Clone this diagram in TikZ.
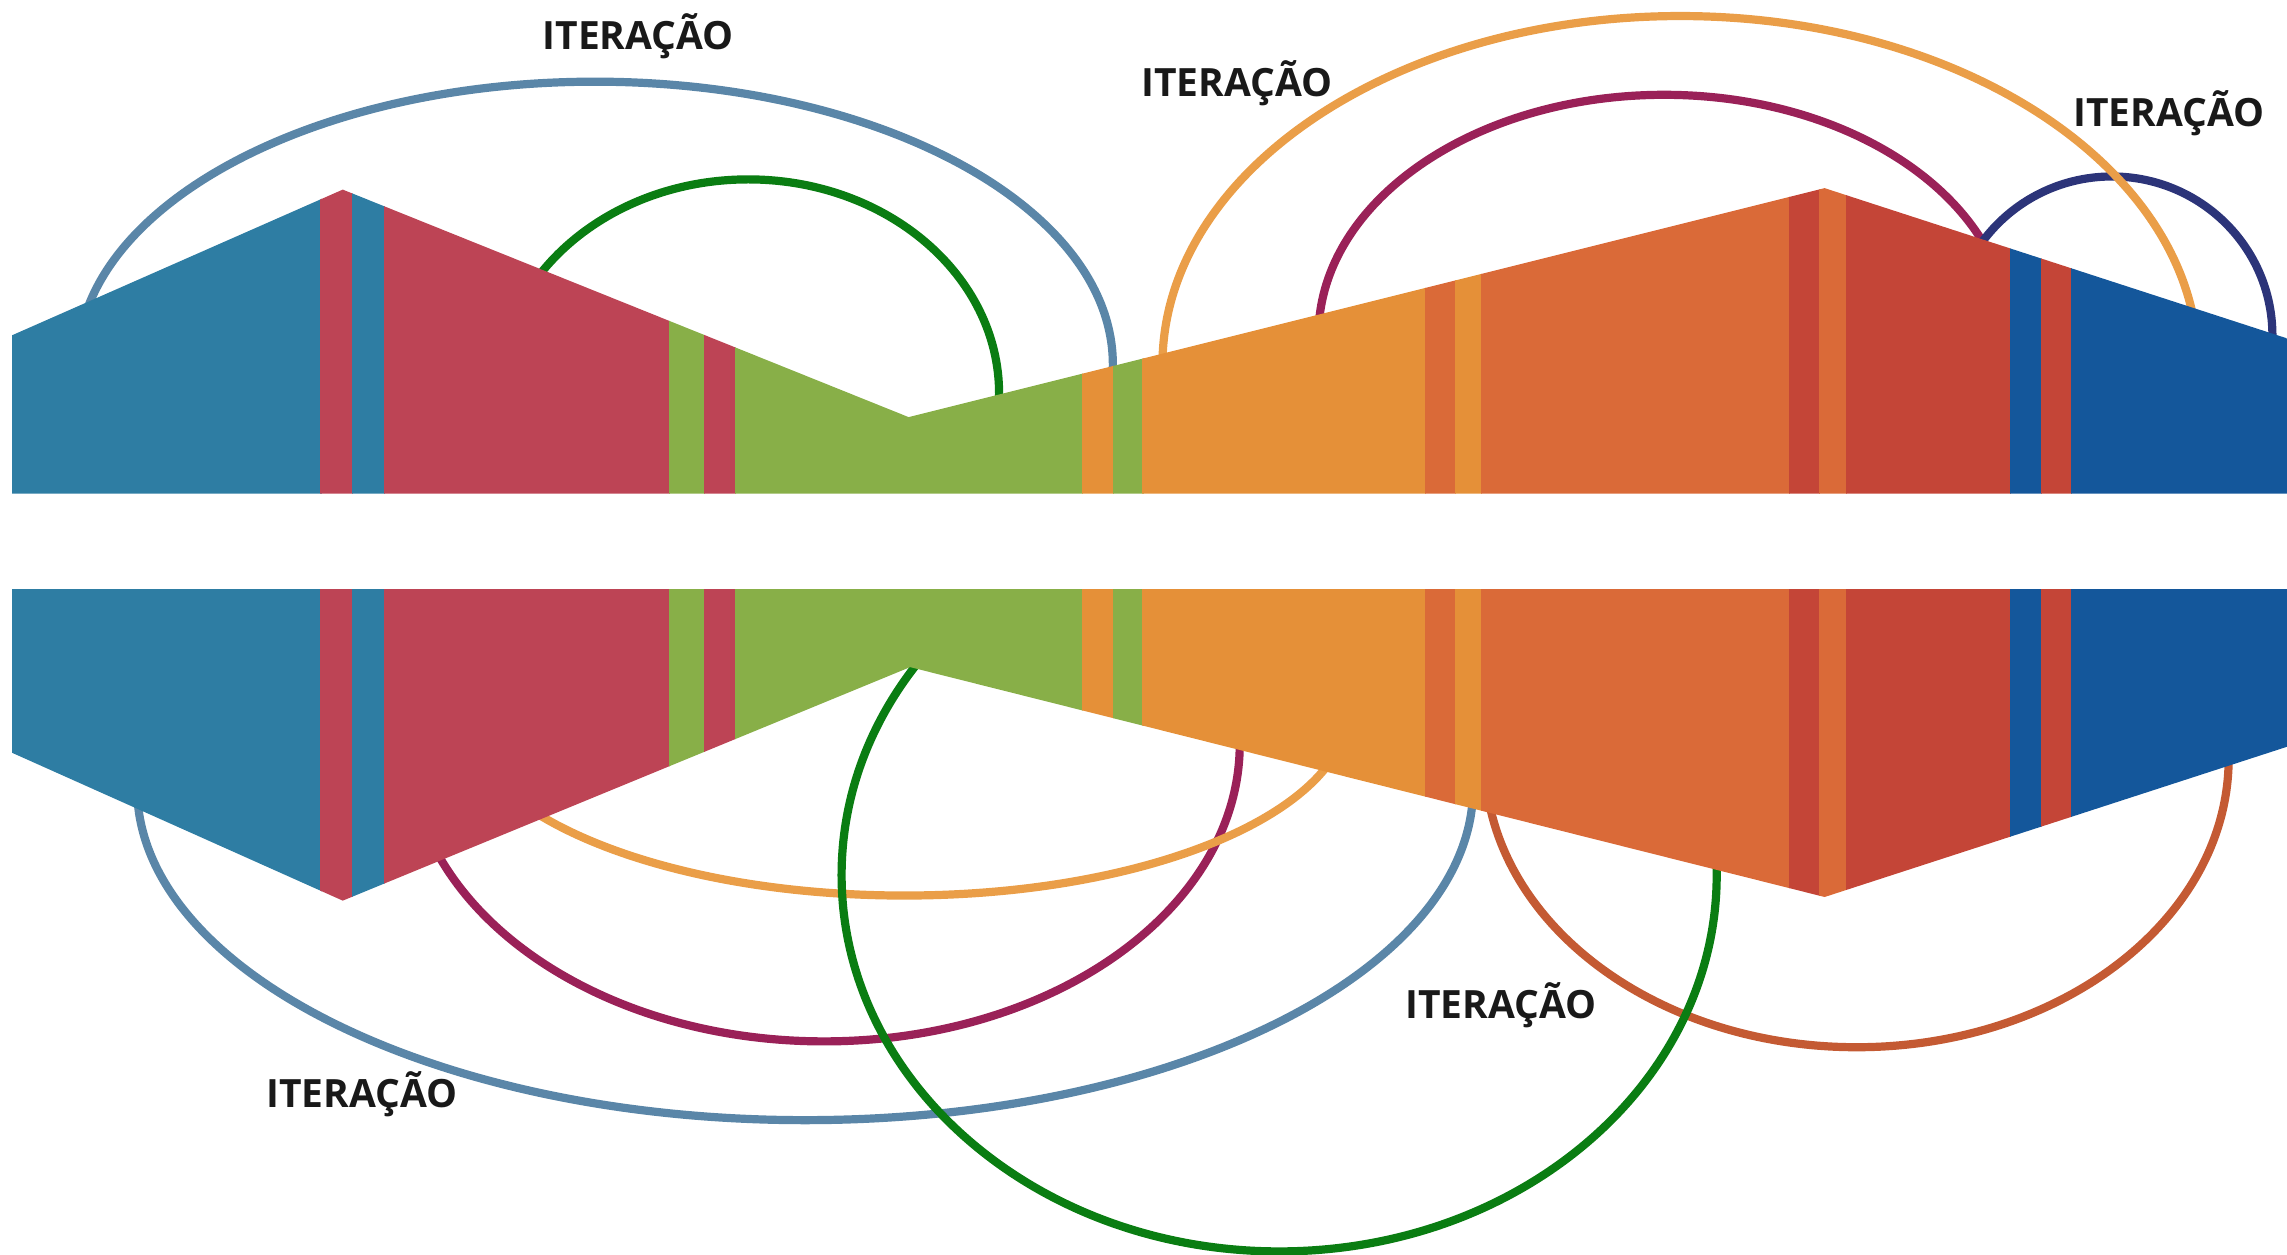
\documentclass[tikz,border=0pt]{standalone}
\usepackage{fontspec}
\setmainfont{Open Sans}
\usepackage{tikz}

% band colours
\definecolor{bteal}{HTML}{2E7DA3}
\definecolor{bred}{HTML}{BD4455}
\definecolor{bgreen}{HTML}{88AF48}
\definecolor{borange}{HTML}{E59038}
\definecolor{bdkorange}{HTML}{DA6A38}
\definecolor{bbrick}{HTML}{C44537}
\definecolor{bblue}{HTML}{14579B}
% loop colours
\definecolor{lnsteel}{HTML}{5A86A8}
\definecolor{lngreen}{HTML}{0A7D12}
\definecolor{lnorange}{HTML}{EA9E48}
\definecolor{lnmaroon}{HTML}{9A2158}
\definecolor{lnnavy}{HTML}{2C3479}
\definecolor{lnrust}{HTML}{C45A33}

\newcommand{\stripelist}{8/219.7/bteal, 219.7/241.4/bred, 241.4/263.1/bteal,
  263.1/458.5/bred, 458.5/482.6/bgreen, 482.6/503.9/bred, 503.9/742/bgreen,
  742/762.8/borange, 762.8/783.3/bgreen, 783.3/976.8/borange,
  976.8/997.6/bdkorange, 997.6/1015.4/borange, 1015.4/1226.3/bdkorange,
  1226.3/1246.8/bbrick, 1246.8/1265.4/bdkorange, 1265.4/1377.9/bbrick,
  1377.9/1399.2/bblue, 1399.2/1420.1/bbrick, 1420.1/1568/bblue}

\tikzset{
  loopline/.style={line width=1.6pt},
  itertext/.style={font=\bfseries\fontsize{7.6}{8}\selectfont, text=black!90, inner sep=0pt, anchor=base}
}

\begin{document}
\begin{tikzpicture}[x=0.1mm, y=-0.1mm]
\useasboundingbox (0,0) rectangle (1568,860);

% loops above the upper band
\begin{scope}
  \clip (0,0) rectangle (1568,320);
  \draw[loopline, lnsteel] (408,250) ellipse [x radius=35.5mm, y radius=19.4mm];
  \draw[loopline, lngreen] (513,270) ellipse [x radius=17.2mm, y radius=14.7mm];
  \draw[loopline, lnmaroon] (1141,230) ellipse [x radius=23.7mm, y radius=16.5mm];
  \draw[loopline, lnnavy] (1448,230) ellipse [x radius=11mm, y radius=10.9mm];
  \draw[loopline, lnorange] (1152,250) ellipse [x radius=35.5mm, y radius=23.9mm];
\end{scope}

% upper band
\begin{scope}
  \clip (8,338.5) -- (8,230) -- (235,130) -- (623,286) -- (1251,129) -- (1568,232) -- (1568,338.5) -- cycle;
  \foreach \xa/\xb/\col in \stripelist
    \fill[\col] (\xa,100) rectangle (\xb+0.8,340);
\end{scope}

% loops below the lower band
\begin{scope}
  \clip (0,425) rectangle (1568,860);
  \draw[loopline, lnsteel] (552,540) ellipse [x radius=45.8mm, y radius=22.8mm];
  \draw[loopline, lnmaroon] (565,510) ellipse [x radius=28.5mm, y radius=20.4mm];
  \draw[loopline, lnorange] (620,485) ellipse [x radius=30.5mm, y radius=12.9mm];
  \draw[loopline, lnrust] (1273,520) ellipse [x radius=25.5mm, y radius=19.8mm];
  \draw[loopline, lngreen] (877,600) ellipse [x radius=30mm, y radius=25.8mm];
\end{scope}

% lower band
\begin{scope}
  \clip (8,404) -- (8,516) -- (235,617.5) -- (624,457.4) -- (1251,615) -- (1568,512) -- (1568,404) -- cycle;
  \foreach \xa/\xb/\col in \stripelist
    \fill[\col] (\xa,400) rectangle (\xb+0.8,620);
\end{scope}

\node[itertext] (iterA) at (437.5,34) {ITERAÇÃO};
\node[itertext] (iterB) at (848,66) {ITERAÇÃO};
\node[itertext] (iterC) at (1487,87) {ITERAÇÃO};
\node[itertext] (iterD) at (248,759) {ITERAÇÃO};
\node[itertext] (iterE) at (1029,698) {ITERAÇÃO};
\end{tikzpicture}
\end{document}
